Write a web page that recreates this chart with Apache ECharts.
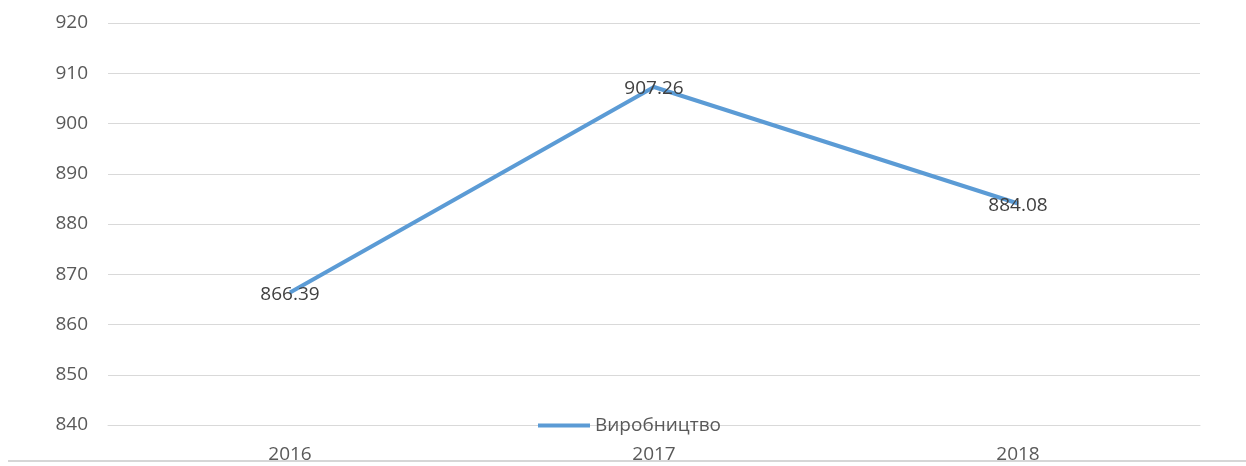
<!DOCTYPE html>
<html>
<head>
<meta charset="utf-8">
<script src="https://cdn.jsdelivr.net/npm/echarts@6/dist/echarts.min.js"></script>
<style>
  html, body { margin: 0; padding: 0; background: #ffffff; }
  #wrap { position: relative; width: 1246px; height: 466px; overflow: hidden; }
  #chart { position: absolute; left: 0; top: 0; width: 1246px; height: 460px; }
  #rule { position: absolute; left: 8px; right: 0; top: 460px; height: 2px; background: #d6d6d6; }
</style>
</head>
<body>
<div id="wrap">
  <div id="chart"></div>
  <div id="rule"></div>
</div>
<script>
// Annual production figures
const years = ['2016', '2017', '2018'];
const production = [866.39, 907.26, 884.08];
const seriesName = 'Виробництво';
const yMin = 840;
const yMax = 920;
const yStep = 10;

const chart = echarts.init(document.getElementById('chart'), null, { renderer: 'canvas' });
const font = '"Open Sans", "Noto Sans", sans-serif';

chart.setOption({
  animation: false,
  backgroundColor: '#ffffff',
  grid: { left: 108, right: 46, top: 23, bottom: 35, containLabel: false, outerBoundsMode: 'none' },
  legend: {
    data: [{ name: seriesName, icon: 'rect' }],
    left: 538,
    top: 416,
    padding: 0,
    itemWidth: 52,
    itemHeight: 4,
    itemGap: 5,
    textStyle: { color: '#595959', fontSize: 19, fontFamily: font, padding: [0, 0, 0, 0] },
    backgroundColor: 'transparent'
  },
  xAxis: {
    type: 'category',
    data: years,
    boundaryGap: true,
    axisLine: { show: true, lineStyle: { color: '#d9d9d9', width: 1 } },
    axisTick: { show: false },
    axisLabel: { color: '#595959', fontSize: 19, fontFamily: font, margin: 20 }
  },
  yAxis: {
    type: 'value',
    min: yMin,
    max: yMax,
    interval: yStep,
    axisLine: { show: false },
    axisTick: { show: false },
    axisLabel: { color: '#595959', fontSize: 19, fontFamily: font, margin: 20 },
    splitLine: { lineStyle: { color: '#d9d9d9', width: 1 } }
  },
  series: [{
    name: seriesName,
    type: 'line',
    data: production,
    symbol: 'circle',
    symbolSize: 1,
    showSymbol: true,
    itemStyle: { color: '#5b9bd5' },
    lineStyle: { color: '#5b9bd5', width: 4 },
    label: {
      show: true,
      position: 'inside',
      offset: [0, 2],
      color: '#404040',
      fontSize: 19,
      fontFamily: font,
      formatter: p => p.value.toFixed(2)
    }
  }]
});
</script>
</body>
</html>
